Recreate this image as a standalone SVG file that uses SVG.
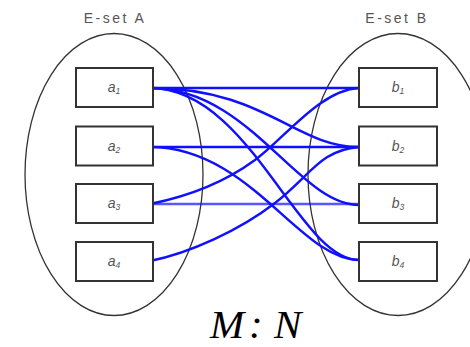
<svg xmlns="http://www.w3.org/2000/svg" width="470" height="347" viewBox="0 0 470 347">
  <style>
    .set { fill: none; stroke: #333; stroke-width: 1.3; }
    .set-label { font-family: "Liberation Sans", Arial, sans-serif; font-size: 14px; fill: #555; letter-spacing: 2.5px; text-anchor: middle; }
    .box { fill: #fff; stroke: #333; stroke-width: 2; }
    .item { font-family: "Liberation Sans", Arial, sans-serif; font-style: italic; font-size: 14px; fill: #555; text-anchor: middle; }
    .sub { font-size: 8.5px; }
    .link { fill: none; stroke: #1010ff; stroke-width: 2.4; }
    .ratio { font-family: "Liberation Serif", "Times New Roman", serif; font-style: italic; font-size: 41px; fill: #000; }
  </style>
  <rect width="470" height="347" fill="#fff"/>

  <!-- entity sets -->
  <g id="set-a">
    <ellipse class="set" cx="114" cy="174.5" rx="89" ry="141"/>
    <text class="set-label" x="115" y="23">E-set A</text>
  </g>
  <g id="set-b">
    <ellipse class="set" cx="398" cy="174.5" rx="90" ry="141"/>
    <text class="set-label" x="397" y="23">E-set B</text>
  </g>

  <!-- relationship links -->
  <g id="connectors">
    <path class="link" d="M150,88 L359,88"/>
    <path class="link" d="M150,88 C265,88 295,147 359,147"/>
    <path class="link" d="M150,88 C250,88 298,205 359,205"/>
    <path class="link" d="M150,88 C250,88 298,260 359,260"/>
    <path class="link" d="M150,147 L359,147"/>
    <path class="link" d="M150,147 C250,147 300,260 359,260"/>
    <path class="link" d="M150,204 L359,204" stroke-opacity="0.7"/>
    <path class="link" d="M150,204 C190,196 225,182 255,160 S320,90 359,88"/>
    <path class="link" d="M150,261 C190,253 240,230 275,203 S320,150 359,147"/>
  </g>

  <!-- members of set A -->
  <g id="a1">
    <rect class="box" x="76" y="68" width="77" height="39"/>
    <text class="item" x="114" y="92">a<tspan class="sub" dy="2">1</tspan></text>
  </g>
  <g id="a2">
    <rect class="box" x="76" y="126.5" width="77" height="39"/>
    <text class="item" x="114" y="150.5">a<tspan class="sub" dy="2">2</tspan></text>
  </g>
  <g id="a3">
    <rect class="box" x="76" y="184" width="77" height="39"/>
    <text class="item" x="114" y="208">a<tspan class="sub" dy="2">3</tspan></text>
  </g>
  <g id="a4">
    <rect class="box" x="76" y="242" width="77" height="39"/>
    <text class="item" x="114" y="266">a<tspan class="sub" dy="2">4</tspan></text>
  </g>

  <!-- members of set B -->
  <g id="b1">
    <rect class="box" x="359" y="68" width="78" height="39"/>
    <text class="item" x="398" y="92">b<tspan class="sub" dy="2">1</tspan></text>
  </g>
  <g id="b2">
    <rect class="box" x="359" y="126.5" width="78" height="39"/>
    <text class="item" x="398" y="150.5">b<tspan class="sub" dy="2">2</tspan></text>
  </g>
  <g id="b3">
    <rect class="box" x="359" y="184" width="78" height="39"/>
    <text class="item" x="398" y="208">b<tspan class="sub" dy="2">3</tspan></text>
  </g>
  <g id="b4">
    <rect class="box" x="359" y="242" width="78" height="39"/>
    <text class="item" x="398" y="266">b<tspan class="sub" dy="2">4</tspan></text>
  </g>

  <!-- cardinality -->
  <text class="ratio" y="338"><tspan x="210">M</tspan><tspan x="249">:</tspan> <tspan x="274">N</tspan></text>
</svg>
